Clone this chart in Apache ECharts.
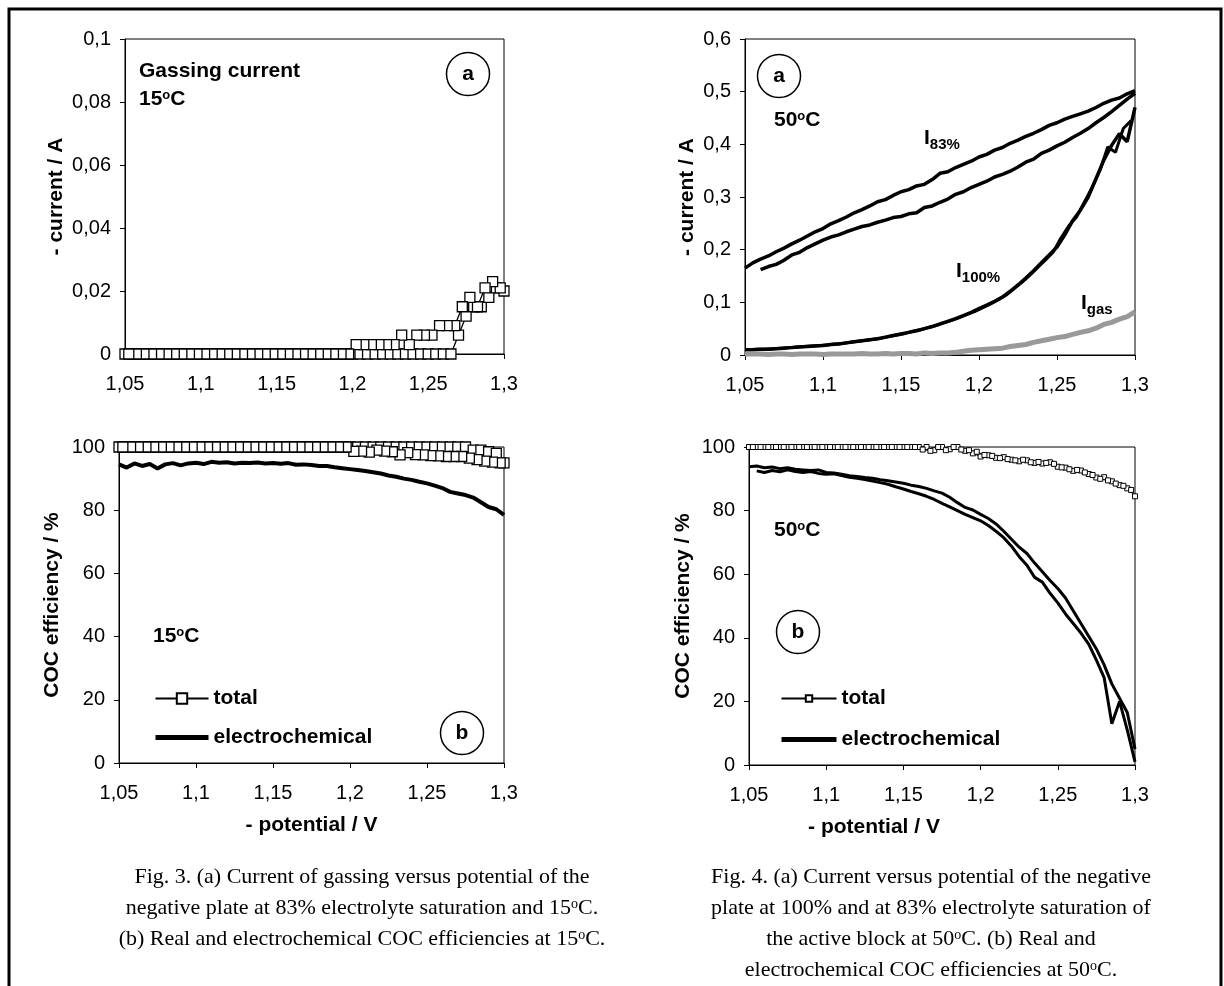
<!DOCTYPE html>
<html>
<head>
<meta charset="utf-8">
<title>Gassing current and COC efficiency</title>
<script src="https://cdn.jsdelivr.net/npm/echarts@6/dist/echarts.min.js"></script>
<style>
  html, body { margin: 0; padding: 0; background: #fff; }
  #chart { width: 1224px; height: 986px; }
</style>
</head>
<body>
<div id="chart"></div>
<script>
// potential grid of the forward sweep and of the backward sweep (V)
const potential = [
  1.05, 1.055, 1.06, 1.065, 1.07, 1.075, 1.08, 1.085, 1.09, 1.095,
  1.1, 1.105, 1.11, 1.115, 1.12, 1.125, 1.13, 1.135, 1.14, 1.145,
  1.15, 1.155, 1.16, 1.165, 1.17, 1.175, 1.18, 1.185, 1.19, 1.195,
  1.2, 1.205, 1.21, 1.215, 1.22, 1.225, 1.23, 1.235, 1.24, 1.245,
  1.25, 1.255, 1.26, 1.265, 1.27, 1.275, 1.28, 1.285, 1.29, 1.295,
  1.3
]
const potentialBack = [
  1.2975, 1.2925, 1.2875, 1.2825, 1.2775, 1.2725, 1.2675, 1.2625, 1.2575, 1.2525,
  1.2475, 1.2425, 1.2375, 1.2325, 1.2275, 1.2225, 1.2175, 1.2125, 1.2075, 1.2025,
  1.1975, 1.1925, 1.1875, 1.1825, 1.1775, 1.1725, 1.1675, 1.1625, 1.1575, 1.1525,
  1.1475, 1.1425, 1.1375, 1.1325, 1.1275, 1.1225, 1.1175, 1.1125, 1.1075, 1.1025,
  1.0975, 1.0925, 1.0875, 1.0825, 1.0775, 1.0725, 1.0675, 1.0625, 1.0575, 1.0525
]

// Fig. 3a - gassing current at 15 C (A)
const gasForward = [
  0, 0, 0, 0, 0, 0, 0, 0, 0, 0,
  0, 0, 0, 0, 0, 0, 0, 0, 0, 0,
  0, 0, 0, 0, 0, 0, 0, 0, 0, 0,
  0, 0, 0, 0, 0, 0, 0, 0, 0, 0,
  0, 0, 0, 0, 0.006, 0.012, 0.015, 0.015, 0.018, 0.021,
  0.02
]
const gasBack = [
  0.021, 0.023, 0.021, 0.015, 0.018, 0.015, 0.009, 0.009, 0.009, 0.006,
  0.006, 0.006, 0.003, 0.006, 0.003, 0.003, 0.003, 0.003, 0.003, 0.003,
  0, 0, 0, 0, 0, 0, 0, 0, 0, 0,
  0, 0, 0, 0, 0, 0, 0, 0, 0, 0,
  0, 0, 0, 0, 0, 0, 0, 0, 0, 0
]

// Fig. 4a - currents at 50 C (A)
const i83Upper = [
  0.165, 0.175, 0.182, 0.188, 0.196, 0.203, 0.211, 0.218, 0.226, 0.234,
  0.240, 0.249, 0.255, 0.262, 0.270, 0.276, 0.283, 0.291, 0.295, 0.303,
  0.310, 0.314, 0.321, 0.324, 0.333, 0.345, 0.348, 0.356, 0.362, 0.368,
  0.376, 0.381, 0.389, 0.394, 0.402, 0.408, 0.415, 0.421, 0.428, 0.436,
  0.441, 0.448, 0.453, 0.458, 0.463, 0.470, 0.478, 0.484, 0.488, 0.496,
  0.502
]
// starts at 1,06
const i83Lower = [
  0.162, 0.168, 0.172, 0.180, 0.190, 0.195, 0.204, 0.211,
  0.218, 0.224, 0.228, 0.234, 0.239, 0.244, 0.247, 0.252, 0.256, 0.261,
  0.263, 0.268, 0.270, 0.280, 0.283, 0.290, 0.296, 0.305, 0.310, 0.318,
  0.324, 0.330, 0.338, 0.343, 0.349, 0.357, 0.366, 0.372, 0.383, 0.389,
  0.397, 0.404, 0.413, 0.421, 0.430, 0.441, 0.451, 0.462, 0.474, 0.486,
  0.497
]
const i100Forward = [
  0.010, 0.010, 0.011, 0.011, 0.012, 0.013, 0.014, 0.015, 0.016, 0.017,
  0.018, 0.020, 0.021, 0.023, 0.025, 0.027, 0.029, 0.031, 0.034, 0.037,
  0.040, 0.043, 0.046, 0.050, 0.054, 0.059, 0.064, 0.069, 0.075, 0.081,
  0.088, 0.095, 0.102, 0.110, 0.121, 0.133, 0.146, 0.160, 0.175, 0.190,
  0.205, 0.228, 0.255, 0.275, 0.300, 0.335, 0.370, 0.398, 0.420, 0.405,
  0.470
]
const i100Back = [
  0.445, 0.430, 0.385, 0.395, 0.350, 0.318, 0.290, 0.262, 0.245, 0.222,
  0.195, 0.180, 0.166, 0.151, 0.138, 0.126, 0.114, 0.105, 0.097, 0.090,
  0.083, 0.077, 0.071, 0.066, 0.061, 0.056, 0.052, 0.048, 0.045, 0.041,
  0.038, 0.035, 0.032, 0.030, 0.028, 0.026, 0.024, 0.022, 0.021, 0.019,
  0.018, 0.017, 0.016, 0.015, 0.014, 0.013, 0.012, 0.011, 0.011, 0.010
]
const iGas = [
  0.002, 0.002, 0.002, 0.001, 0.002, 0.002, 0.001, 0.002, 0.002, 0.002,
  0.001, 0.002, 0.002, 0.002, 0.002, 0.003, 0.002, 0.002, 0.003, 0.002,
  0.003, 0.003, 0.002, 0.004, 0.003, 0.004, 0.004, 0.005, 0.007, 0.009,
  0.010, 0.011, 0.012, 0.013, 0.016, 0.018, 0.020, 0.024, 0.027, 0.030,
  0.033, 0.035, 0.039, 0.043, 0.046, 0.051, 0.058, 0.062, 0.068, 0.073,
  0.082
]

// Fig. 3b - COC efficiency at 15 C (%)
const total15Forward = [
  100, 100, 100, 100, 100, 100, 100, 100, 100, 100,
  100, 100, 100, 100, 100, 100, 100, 100, 100, 100,
  100, 100, 100, 100, 100, 100, 100, 100, 100, 100,
  100, 100, 100, 100, 100, 100, 100, 100, 100, 100,
  100, 100, 100, 100, 100, 100, 99, 99, 98.5, 98,
  95
]
const total15Back = [
  95, 95.2, 95.5, 96, 96.5, 97, 97, 97, 97.2, 97.3,
  97.5, 97.6, 98.2, 97.5, 98.5, 98.7, 99, 98.4, 98.7, 98.6,
  100, 100, 100, 100, 100, 100, 100, 100, 100, 100,
  100, 100, 100, 100, 100, 100, 100, 100, 100, 100,
  100, 100, 100, 100, 100, 100, 100, 100, 100, 100
]
const electro15 = [
  94.5, 93.5, 94.8, 94.0, 94.6, 93.2, 94.5, 94.9, 94.2, 94.8,
  95.0, 94.6, 95.3, 95.0, 95.2, 94.8, 95.0, 94.9, 95.1, 94.8,
  94.9, 94.7, 94.9, 94.4, 94.5, 94.3, 94.0, 94.0, 93.6, 93.3,
  93.0, 92.7, 92.4, 92.0, 91.6, 91.0, 90.6, 90.0, 89.6, 89.0,
  88.5, 87.8, 87.0, 85.8, 85.3, 84.8, 84.0, 82.5, 81.0, 80.3,
  78.5
]

// Fig. 4b - COC efficiency at 50 C (%)
const total50Forward = [
  100, 100, 100, 100, 100, 100, 100, 100, 100, 100,
  100, 100, 100, 100, 100, 100, 100, 100, 100, 100,
  100, 100, 100, 100, 99, 100, 99.3, 100, 98.8, 98,
  97, 97.4, 96.6, 96.8, 96, 95.5, 95.8, 95, 94.8, 95.2,
  93.8, 93.5, 92.5, 92.6, 91.5, 90.4, 90.5, 89.2, 88, 87,
  84.5
]
const total50Back = [
  86.5, 87.8, 88.5, 89.5, 90, 91.2, 92, 92.8, 93, 93.6,
  94.7, 95, 95.3, 95.2, 96, 95.8, 96.2, 96.5, 97.2, 97.5,
  98.5, 99, 99.2, 100, 99, 100, 98.8, 99.2, 100, 100,
  100, 100, 100, 100, 100, 100, 100, 100, 100, 100,
  100, 100, 100, 100, 100, 100, 100, 100, 100, 100
]
const electro50Upper = [
  93.8, 94.0, 93.5, 93.7, 93.2, 93.5, 93.0, 92.8, 92.6, 92.8,
  92.0, 91.8, 91.4, 91.0, 90.7, 90.4, 90.2, 89.7, 89.4, 89.0,
  88.6, 88.0, 87.6, 87.0, 86.2, 85.5, 84.2, 82.5, 81.0, 80.2,
  78.8, 77.5, 75.8, 73.5, 71.0, 68.5, 66.5, 63.5, 60.8, 58.0,
  55.5, 52.5, 48.5, 44.5, 40.5, 36.5, 31.5, 25.5, 21.0, 16.5,
  5
]
// starts at 1,055
const electro50Lower = [
  92.5, 92.0, 92.6, 92.2, 92.8, 92.3, 92.0, 92.3, 91.7,
  91.4, 91.6, 91.0, 90.5, 90.2, 89.8, 89.3, 88.8, 88.3, 87.5,
  86.8, 86.0, 85.3, 84.5, 83.5, 82.3, 81.2, 80.0, 78.8, 77.8,
  76.8, 75.3, 73.5, 71.5, 68.8, 65.5, 62.8, 59.0, 57.5, 54.0,
  51.0, 47.5, 44.5, 41.5, 38.0, 33.0, 27.5, 13.0, 20.0, 11.0,
  1.0
]

const captionLeft = [
  'Fig. 3. (a) Current of gassing versus potential of the',
  'negative plate at 83% electrolyte saturation and 15{s|o}C.',
  '(b) Real and electrochemical COC efficiencies at 15{s|o}C.'
]
const captionRight = [
  'Fig. 4. (a) Current versus potential of the negative',
  'plate at 100% and at 83% electrolyte saturation of',
  'the active block at 50{s|o}C. (b) Real and',
  'electrochemical COC efficiencies at 50{s|o}C.'
]

const ink = '#000'
const sans = 'Liberation Sans'
const serif = 'Liberation Serif'

const pairs = (xs, ys) => ys.map((y, i) => [xs[i], y])
const comma = v => String(+v.toFixed(3)).replace('.', ',')

const titleStyle = { color: ink, fontFamily: sans, fontWeight: 'bold', fontSize: 21 }

function valueAxis(gridIndex, min, max, interval, margin, extra) {
  return Object.assign({
    type: 'value',
    gridIndex,
    min,
    max,
    interval,
    axisLine: { show: true, onZero: false, lineStyle: { color: ink, width: 1 } },
    axisTick: { show: true, length: 5, lineStyle: { color: ink, width: 1 } },
    splitLine: { show: false },
    axisLabel: { color: ink, fontFamily: sans, fontSize: 20, margin, formatter: comma }
  }, extra)
}

// plain lines; the 'line' symbol keeps the legend icon a bare stroke
function lineSeries(name, axis, data, width, color) {
  return {
    name,
    type: 'line',
    xAxisIndex: axis,
    yAxisIndex: axis,
    data,
    symbol: 'line',
    showSymbol: false,
    clip: false,
    lineStyle: { color: color || ink, width },
    itemStyle: { color: color || ink }
  }
}

function squareSeries(name, axis, data, size, width) {
  return {
    name,
    type: 'line',
    xAxisIndex: axis,
    yAxisIndex: axis,
    data,
    symbol: 'rect',
    symbolSize: size,
    showAllSymbol: true,
    clip: false,
    lineStyle: { color: ink, width },
    itemStyle: { color: '#fff', borderColor: ink, borderWidth: size > 6 ? 1.3 : 1 }
  }
}

const richBold = {
  n: { fontFamily: sans, fontWeight: 'bold', fontSize: 21, lineHeight: 24, verticalAlign: 'top' },
  s: { fontFamily: sans, fontWeight: 'bold', fontSize: 13, lineHeight: 13, verticalAlign: 'top' },
  b: { fontFamily: sans, fontWeight: 'bold', fontSize: 15, lineHeight: 15, verticalAlign: 'bottom', padding: [10, 0, 0, 0] }
}

function note(x, y, text) {
  return {
    type: 'text',
    x,
    y,
    silent: true,
    style: { text, fill: ink, fontFamily: sans, fontWeight: 'bold', fontSize: 21, align: 'left', verticalAlign: 'middle', rich: richBold }
  }
}

function tag(cx, cy, letter) {
  return [
    { type: 'circle', shape: { cx, cy, r: 21.5 }, style: { fill: 'none', stroke: ink, lineWidth: 1.5 }, silent: true },
    { type: 'text', x: cx, y: cy, silent: true, style: { text: letter, fill: ink, fontFamily: sans, fontWeight: 'bold', fontSize: 21, align: 'center', verticalAlign: 'middle' } }
  ]
}

function caption(lines, cx, top) {
  return lines.map((line, i) => ({
    type: 'text',
    x: cx,
    y: top + i * 31,
    silent: true,
    style: {
      text: line,
      fill: ink,
      fontFamily: serif,
      fontSize: 22,
      align: 'center',
      verticalAlign: 'middle',
      rich: { s: { fontFamily: serif, fontSize: 14, verticalAlign: 'top', lineHeight: 14 } }
    }
  }))
}

const chart = echarts.init(document.getElementById('chart'))

chart.setOption({
  animation: false,
  backgroundColor: '#fff',
  grid: [
    { left: 125, top: 39, width: 379, height: 315 },
    { left: 745, top: 39, width: 390, height: 316 },
    { left: 119, top: 447, width: 385, height: 316 },
    { left: 749, top: 447, width: 386, height: 318 }
  ].map(g => Object.assign(g, { show: true, borderColor: ink, borderWidth: 1, outerBoundsMode: 'none' })),
  xAxis: [
    valueAxis(0, 1.05, 1.3, 0.05, 20),
    valueAxis(1, 1.05, 1.3, 0.05, 20),
    valueAxis(2, 1.05, 1.3, 0.05, 20, {
      name: '- potential / V', nameLocation: 'middle', nameGap: 52, nameTextStyle: titleStyle
    }),
    valueAxis(3, 1.05, 1.3, 0.05, 20, {
      name: '- potential / V', nameLocation: 'middle', nameGap: 52,
      nameTextStyle: Object.assign({ padding: [0, 136, 0, 0] }, titleStyle)
    })
  ],
  yAxis: [
    valueAxis(0, 0, 0.1, 0.02, 14, {
      name: '- current / A', nameLocation: 'middle', nameGap: 58, nameTextStyle: titleStyle
    }),
    valueAxis(1, 0, 0.6, 0.1, 14, {
      name: '- current / A', nameLocation: 'middle', nameGap: 47, nameTextStyle: titleStyle
    }),
    valueAxis(2, 0, 100, 20, 14, {
      name: 'COC efficiency / %', nameLocation: 'middle', nameGap: 56, nameTextStyle: titleStyle
    }),
    valueAxis(3, 0, 100, 20, 14, {
      name: 'COC efficiency / %', nameLocation: 'middle', nameGap: 55, nameTextStyle: titleStyle
    })
  ],
  legend: [
    {
      data: ['total@15', { name: 'electrochemical@15', lineStyle: { width: 5 } }],
      left: 148, top: 683, orient: 'vertical',
      itemWidth: 53, itemHeight: 13, itemGap: 18,
      selectedMode: false,
      formatter: n => n.split('@')[0],
      textStyle: titleStyle
    },
    {
      data: ['total@50', { name: 'electrochemical@50', lineStyle: { width: 5 } }],
      left: 774, top: 683, orient: 'vertical',
      itemWidth: 55, itemHeight: 8, itemGap: 20,
      selectedMode: false,
      formatter: n => n.split('@')[0],
      textStyle: titleStyle
    }
  ],
  series: [
    squareSeries('gas@15', 0, pairs(potential, gasForward).concat(pairs(potentialBack, gasBack)), 10, 1.3),
    lineSeries('I83 upper', 1, pairs(potential, i83Upper), 3.5),
    lineSeries('I83 lower', 1, pairs(potential.slice(2), i83Lower), 3.5),
    lineSeries('I100 forward', 1, pairs(potential, i100Forward), 3.5),
    lineSeries('I100 back', 1, pairs(potentialBack, i100Back), 3),
    lineSeries('Igas', 1, pairs(potential, iGas), 5, '#999'),
    squareSeries('total@15', 2, pairs(potential, total15Forward).concat(pairs(potentialBack, total15Back)), 10, 3),
    lineSeries('electrochemical@15', 2, pairs(potential, electro15), 4),
    squareSeries('total@50', 3, pairs(potential, total50Forward).concat(pairs(potentialBack, total50Back)), 5, 1),
    lineSeries('electrochemical@50', 3, pairs(potential, electro50Upper), 3),
    lineSeries('electrochemical@50', 3, pairs(potential.slice(1), electro50Lower), 3)
  ],
  graphic: [
    {
      type: 'polyline', silent: true,
      shape: { points: [[9, 986], [9, 9], [1221, 9], [1221, 986]] },
      style: { stroke: ink, lineWidth: 3, fill: 'none' }
    },
    note(139, 71, 'Gassing current'),
    note(139, 101, '{n|15}{s|o}{n|C}'),
    ...tag(468, 74, 'a'),
    ...tag(779, 76, 'a'),
    note(774, 122, '{n|50}{s|o}{n|C}'),
    note(924, 140, '{n|I}{b|83%}'),
    note(956, 273, '{n|I}{b|100%}'),
    note(1081, 305, '{n|I}{b|gas}'),
    note(153, 638, '{n|15}{s|o}{n|C}'),
    ...tag(462, 733, 'b'),
    note(774, 532, '{n|50}{s|o}{n|C}'),
    ...tag(798, 632, 'b'),
    ...caption(captionLeft, 362, 877),
    ...caption(captionRight, 931, 877)
  ]
})
</script>
</body>
</html>
